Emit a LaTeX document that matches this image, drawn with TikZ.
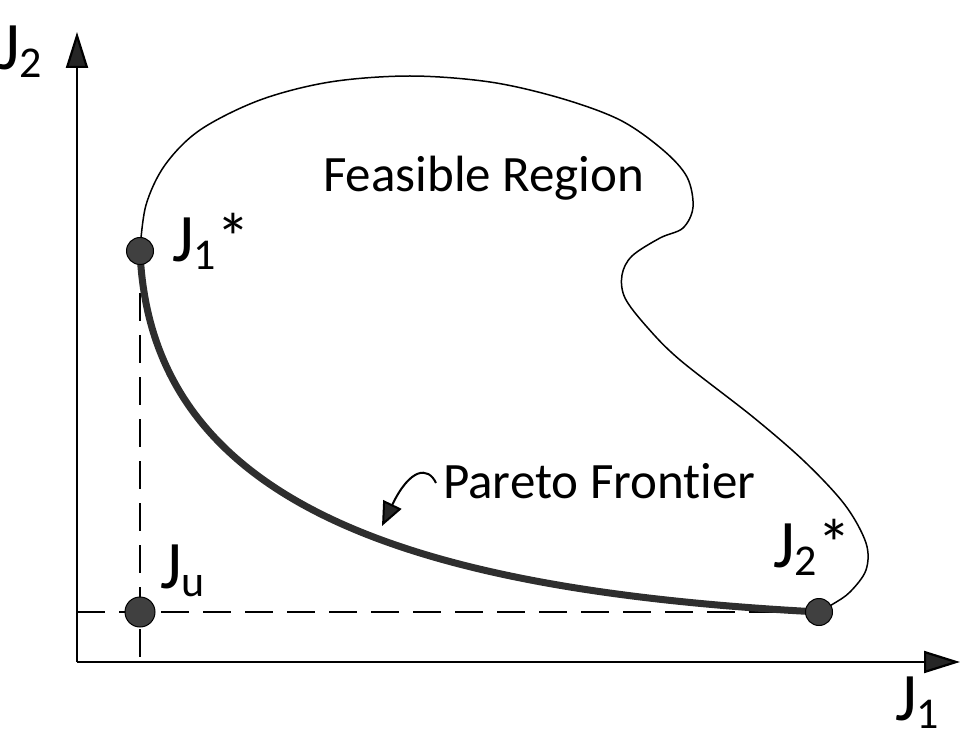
\documentclass[tikz,border=0pt]{standalone}
\usepackage{fontspec}
\setmainfont{Carlito}[Ligatures=NoCommon]
\usetikzlibrary{arrows.meta}
\newcommand{\jsub}[1]{\raisebox{-8pt}{\fontsize{44}{44}\selectfont #1}}
\begin{document}
\begin{tikzpicture}[x=1pt,y=-1pt,
  axisline/.style={line width=2.2pt, draw=black, -{Triangle[length=36pt,width=22pt,fill=black!85]}},
  dot/.style={circle, fill=black!75, draw=black, line width=1pt, minimum size=27pt, inner sep=0pt},
  guide/.style={dash pattern=on 28pt off 14pt, line width=2pt},
  frontier/.style={line width=7pt, draw=black!82},
  boundary/.style={line width=1.5pt},
  lab/.style={inner sep=0pt, anchor=base west, font=\fontsize{68}{68}\selectfont},
  txt/.style={inner sep=0pt, anchor=base west, font=\fontsize{51}{56}\selectfont},
  pointer/.style={line width=2pt, -{Triangle[length=24pt,width=20pt,fill=black!85]}}
]
\useasboundingbox (0,0) rectangle (964,743);
% axes
\coordinate (O) at (77,662);
\coordinate (Ytip) at (77,32);
\coordinate (Xtip) at (960,662);
\draw[axisline] (O) -- (Ytip);
\draw[axisline] (O) -- (Xtip);
\node[lab] (y2) at (-2,70) {J\jsub{2}};
\node[lab] (x1) at (895,720) {J\jsub{1}};
% feasible boundary
\draw[boundary] plot[smooth, tension=0.55] coordinates {
 (140,250) (146,205) (165,165) (200,130) (260,100) (330,82) (410,76) (490,82)
 (560,98) (620,120) (663,150) (687,177) (693,207) (683,228) (660,238) (632,256)
 (622,275) (625,298) (647,327) (680,360) (753,417) (805,462) (845,505)
 (866,543) (866,570) (850,592) (833,604) (818,612)};
% point positions
\coordinate (pJ1) at (140,251);
\coordinate (pJu) at (140,612);
\coordinate (pJ2) at (819,612);
\coordinate (xfoot) at (140,664);
\coordinate (yfoot) at (77,612);
% dashed guides
\draw[guide] (pJ1) -- (xfoot);
\draw[guide] (yfoot) -- (pJ2);
% Pareto frontier
\draw[frontier] (pJ1) .. controls (150,500) and (400,590) .. (pJ2);
% dots
\node[dot] (J1s) at (pJ1) {};
\node[dot, minimum size=30pt] (Ju) at (pJu) {};
\node[dot] (J2s) at (pJ2) {};
% labels
\node[lab] (l1) at (172,262) {J\jsub{1}*};
\node[lab] (lu) at (160,588) {J\jsub{u}};
\node[lab] (l2) at (773,567) {J\jsub{2}*};
\node[txt] (fr) at (323,192) {Feasible Region};
\node[txt] (pf) at (443,498) {Pareto Frontier};
\coordinate (pa) at (436,483);
\coordinate (pt) at (382,526);
\draw[pointer] (pa) .. controls (428,466) and (410,468) .. (pt);
\end{tikzpicture}
\end{document}
